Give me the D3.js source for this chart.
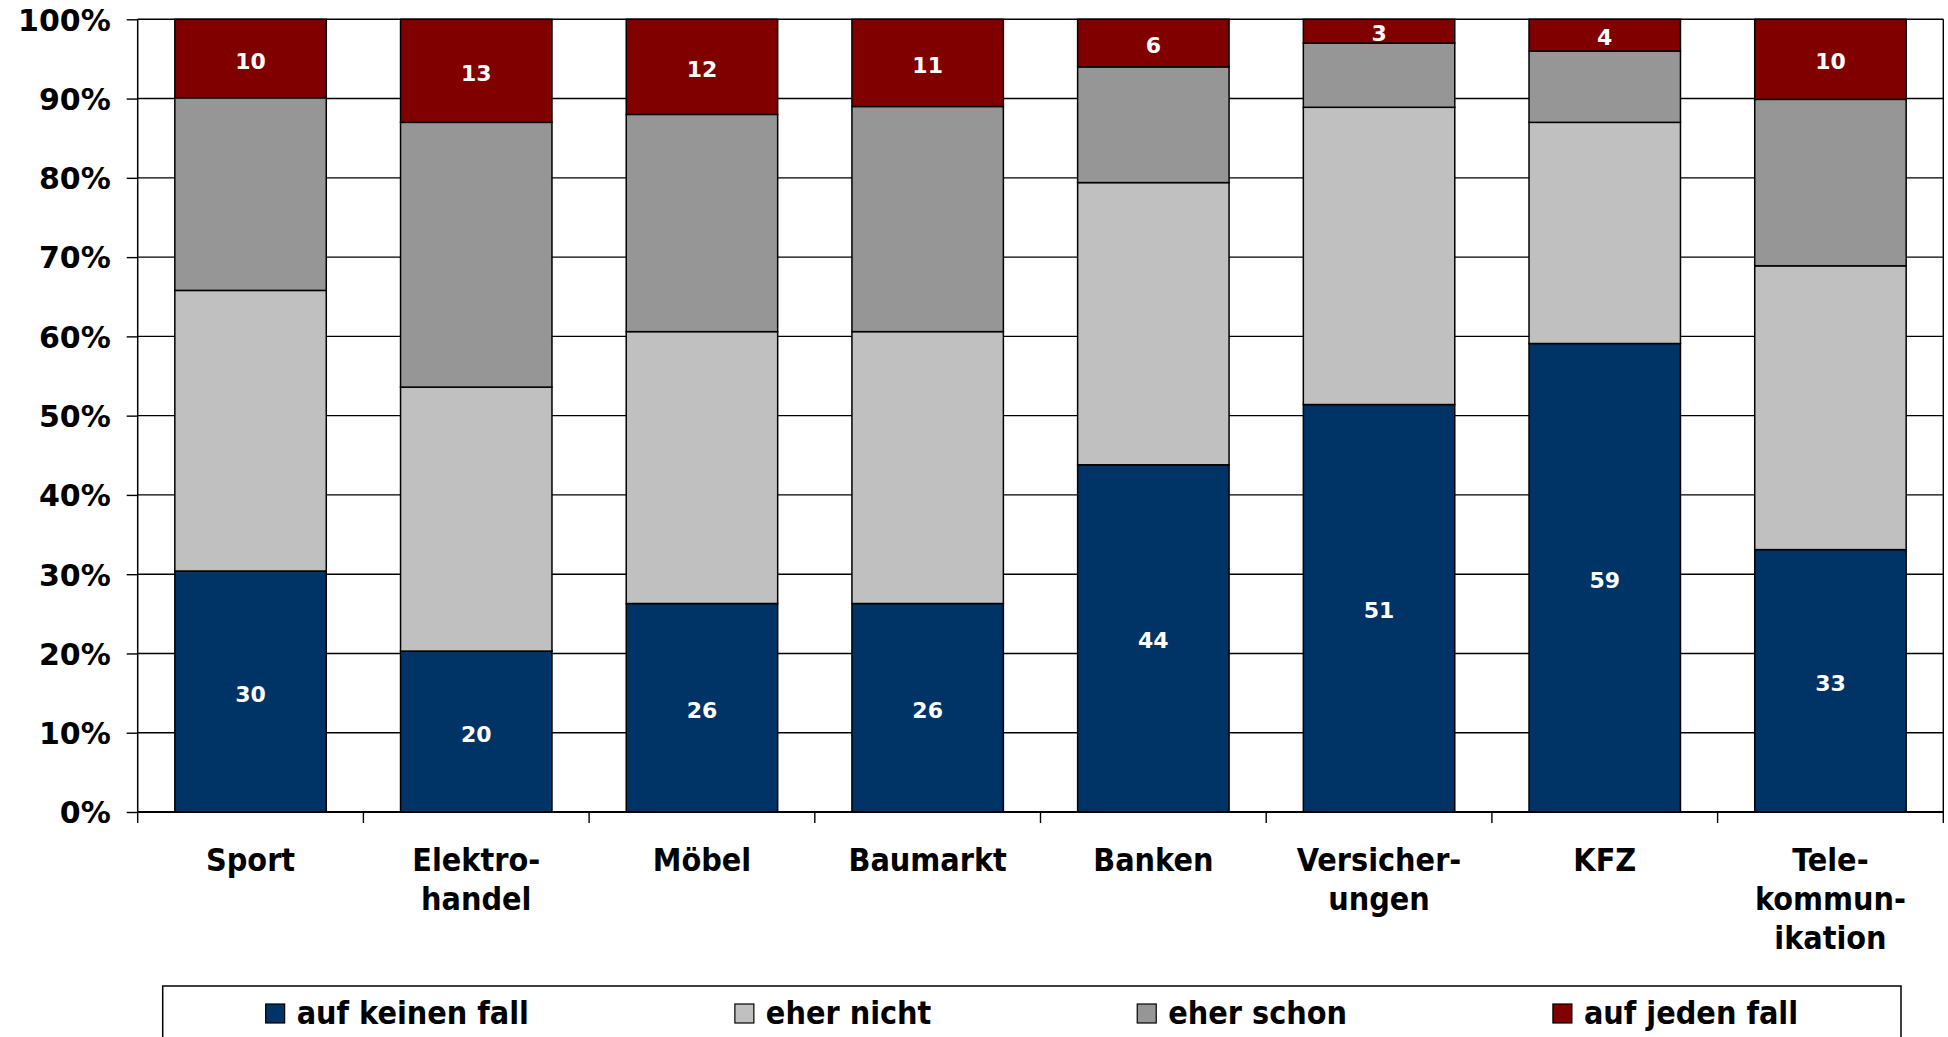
<!DOCTYPE html>
<html>
<head>
<meta charset="utf-8">
<script src="https://cdn.jsdelivr.net/npm/d3@7"></script>
<style>
  body { margin: 0; background: #fff; }
  svg { display: block; }
  .cond { font-family: "DejaVu Sans Condensed", "DejaVu Sans", sans-serif; font-stretch: condensed; font-weight: bold; }
</style>
</head>
<body>
<svg width="1948" height="1037"></svg>
<script>
// categories (line breaks as in the original axis)
var categories = ["Sport", "Elektro-\nhandel", "Möbel", "Baumarkt", "Banken", "Versicher-\nungen", "KFZ", "Tele-\nkommun-\nikation"];

// series, percent of answers
var aufKeinenFall = [30.4, 20.3, 26.3, 26.3, 43.8, 51.4, 59.1, 33.1];
var eherNicht     = [35.4, 33.3, 34.3, 34.3, 35.6, 37.5, 27.9, 35.8];
var eherSchon     = [24.3, 33.4, 27.4, 28.4, 14.6,  8.1,  9.0, 21.0];
var aufJedenFall  = [ 9.9, 13.0, 12.0, 11.0,  6.0,  3.0,  4.0, 10.1];

var seriesNames  = ["auf keinen fall", "eher nicht", "eher schon", "auf jeden fall"];
var seriesColors = ["#003366", "#c0c0c0", "#969696", "#800000"];
var yTicks = [0, 10, 20, 30, 40, 50, 60, 70, 80, 90, 100];

var svg = d3.select("svg");

var rows = categories.map(function (c, i) {
  return { cat: c, s0: aufKeinenFall[i], s1: eherNicht[i], s2: eherSchon[i], s3: aufJedenFall[i] };
});
var keys = ["s0", "s1", "s2", "s3"];
var stacked = d3.stack().keys(keys)(rows);

var x = d3.scaleBand()
    .domain(categories)
    .range([137.7, 1943.3])
    .paddingInner(0.329)
    .paddingOuter(0.1645);
var step = x.step();

var y = d3.scaleLinear().domain([0, 100]).range([812, 19.3]);

// horizontal grid
svg.append("g").selectAll("line")
  .data(yTicks)
  .enter().append("line")
    .attr("x1", 137.7).attr("x2", 1943.3)
    .attr("y1", function (d) { return y(d); })
    .attr("y2", function (d) { return y(d); })
    .attr("stroke", "#000").attr("stroke-width", 1.4);

// right border
svg.append("line")
  .attr("x1", 1943.3).attr("x2", 1943.3)
  .attr("y1", y(100)).attr("y2", y(0))
  .attr("stroke", "#000").attr("stroke-width", 1.4);

// bars
var layer = svg.append("g").selectAll("g")
  .data(stacked)
  .enter().append("g")
    .attr("fill", function (d, i) { return seriesColors[i]; });

layer.selectAll("rect")
  .data(function (d) { return d; })
  .enter().append("rect")
    .attr("x", function (d) { return x(d.data.cat); })
    .attr("width", x.bandwidth())
    .attr("y", function (d) { return y(d[1]); })
    .attr("height", function (d) { return y(d[0]) - y(d[1]); })
    .attr("stroke", "#000").attr("stroke-width", 1.5);

// value labels for first and last series only
[0, 3].forEach(function (si) {
  svg.append("g").selectAll("text")
    .data(stacked[si])
    .enter().append("text")
      .attr("x", function (d) { return x(d.data.cat) + x.bandwidth() / 2; })
      .attr("y", function (d) { return (y(d[0]) + y(d[1])) / 2 + 10; })
      .attr("text-anchor", "middle")
      .attr("fill", "#fff")
      .style("font-family", "'DejaVu Sans', sans-serif")
      .style("font-weight", "bold")
      .style("font-size", "22px")
      .text(function (d) { return d3.format(".0f")(d[1] - d[0]); });
});

// y axis
var yAxis = svg.append("g")
  .attr("transform", "translate(137.7,0)")
  .call(d3.axisLeft(y).tickValues(yTicks).tickSize(11).tickPadding(16)
        .tickFormat(function (d) { return d + "%"; }));
yAxis.select(".domain").attr("stroke", "#000").attr("stroke-width", 1.5).attr("d", "M0," + y(100) + "V" + y(0));
yAxis.selectAll(".tick line").attr("stroke", "#000").attr("stroke-width", 1.4);
yAxis.selectAll(".tick text")
  .attr("fill", "#000")
  .attr("dy", "0.36em")
  .style("font-family", "'DejaVu Sans', sans-serif")
  .style("font-weight", "bold")
  .style("font-size", "30px");

// x axis line and ticks between categories
var xa = svg.append("g").attr("transform", "translate(0," + y(0) + ")");
xa.append("line")
  .attr("x1", 137.7).attr("x2", 1943.3)
  .attr("stroke", "#000").attr("stroke-width", 2);
xa.selectAll("line.tk")
  .data(d3.range(categories.length + 1))
  .enter().append("line")
    .attr("class", "tk")
    .attr("x1", function (i) { return 137.7 + i * step; })
    .attr("x2", function (i) { return 137.7 + i * step; })
    .attr("y1", 0).attr("y2", 11)
    .attr("stroke", "#000").attr("stroke-width", 1.4);

// category labels
var catText = svg.append("g").selectAll("text")
  .data(categories)
  .enter().append("text")
    .attr("class", "cond")
    .attr("text-anchor", "middle")
    .attr("fill", "#000")
    .style("font-size", "32px");
catText.each(function (c) {
  var t = d3.select(this);
  c.split("\n").forEach(function (line, li) {
    t.append("tspan")
      .attr("x", x(c) + x.bandwidth() / 2)
      .attr("y", 870.5 + li * 39.4)
      .text(line);
  });
});

// legend
var legend = svg.append("g");
legend.append("rect")
  .attr("x", 162.7).attr("y", 986)
  .attr("width", 1901 - 162.7).attr("height", 80)
  .attr("fill", "#fff").attr("stroke", "#000").attr("stroke-width", 1.5);

var items = legend.selectAll("g.item")
  .data(seriesNames)
  .enter().append("g").attr("class", "item");
items.append("rect")
  .attr("width", 19).attr("height", 19)
  .attr("y", 1004)
  .attr("fill", function (d, i) { return seriesColors[i]; })
  .attr("stroke", "#000").attr("stroke-width", 1.2);
items.append("text")
  .attr("class", "cond")
  .attr("y", 1024)
  .style("font-size", "32px")
  .attr("fill", "#000")
  .text(function (d) { return d; });

var widths = [];
items.select("text").each(function () { widths.push(this.getComputedTextLength() + 31); });
var total = d3.sum(widths);
var gap = ((1901 - 162.7) - total) / seriesNames.length;
var cx = 162.7 + gap / 2;
items.each(function (d, i) {
  var g = d3.select(this);
  g.select("rect").attr("x", cx);
  g.select("text").attr("x", cx + 31);
  cx += widths[i] + gap;
});
</script>
</body>
</html>
